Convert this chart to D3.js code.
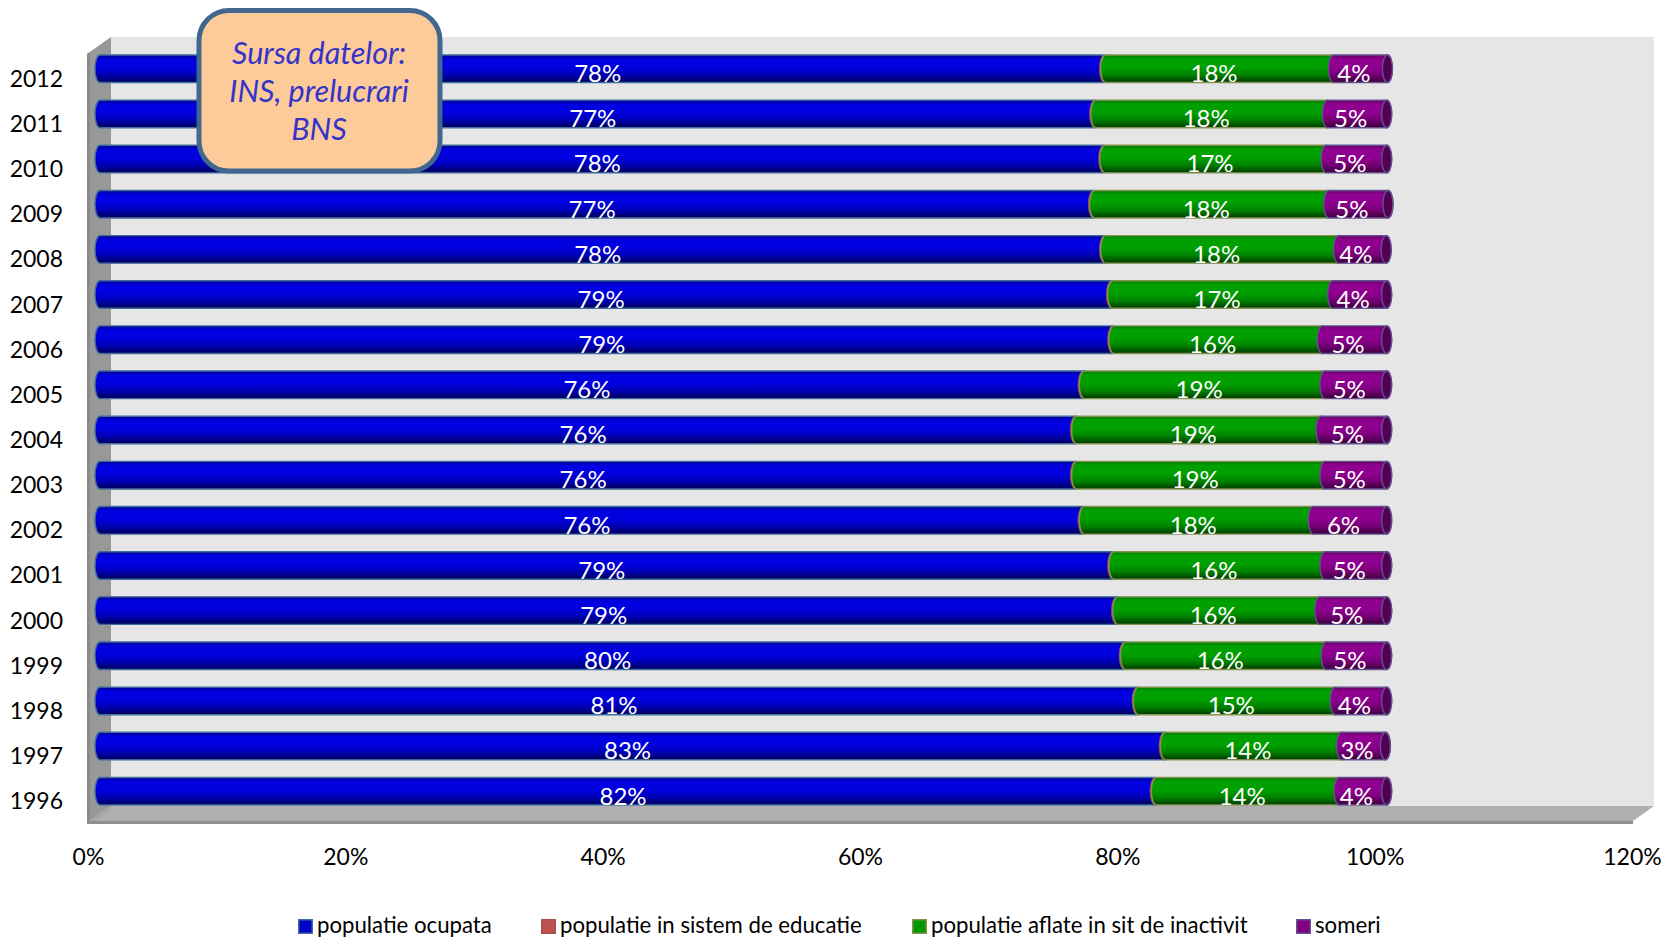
<!DOCTYPE html>
<html><head><meta charset="utf-8">
<script src="https://cdn.jsdelivr.net/npm/d3@7"></script>
<style>html,body{margin:0;padding:0;background:#fff;overflow:hidden}svg{display:block}text{font-family:Lato,"Open Sans",sans-serif}</style>
</head><body><svg id="c" width="1663" height="938"></svg>
<script>
const categories=["2012","2011","2010","2009","2008","2007","2006","2005","2004","2003","2002","2001","2000","1999","1998","1997","1996"];
const ocupata=[78.06,77.3,78.0,77.2,78.06,78.6,78.7,76.4,75.8,75.8,76.4,78.7,79.0,79.6,80.6,82.7,82.0];
const educatie=[0.1,0.1,0.1,0.1,0.1,0.1,0.1,0.1,0.1,0.1,0.1,0.1,0.1,0.1,0.1,0.1,0.1];
const inactiv=[17.7,18.0,17.2,18.2,18.1,17.1,16.2,18.7,19.0,19.3,17.8,16.4,15.7,15.6,15.3,13.7,14.2];
const someri=[4.2,4.6,4.7,4.6,3.7,4.2,5.0,4.8,5.1,4.8,5.7,4.8,5.2,4.7,4.0,3.4,3.7];
const axisTicks=[0,20,40,60,80,100,120];
const seriesNames=["populatie ocupata","populatie in sistem de educatie","populatie aflate in sit de inactivit","someri"];
const seriesValues=[ocupata,educatie,inactiv,someri];
const noteLines=["Sursa datelor:","INS, prelucrari","BNS"];

const svg=d3.select("#c");
const defs=svg.append("defs");
const ramps=[["#00008c","#0000e0","#0000b4","#000058"],["#7a2a28","#c0504d","#a03c3a","#5a1f1e"],["#007a00","#00a000","#008200","#003a00"],["#640064","#900090","#740074","#3a003a"]];
const strokes=["#3f6c9e","#a5514f","#83924f","#64508f"];
const swatchFill=["#0000c8","#c0504d","#009900","#7f007f"];
ramps.forEach((r,i)=>{const g=defs.append("linearGradient").attr("id","g"+i).attr("x1",0).attr("y1",0).attr("x2",0).attr("y2",1);
 [[0,r[0]],[.15,r[1]],[.45,r[1]],[.72,r[2]],[1,r[3]]].forEach(s=>g.append("stop").attr("offset",s[0]).attr("stop-color",s[1]));});

const x=d3.scaleLinear().domain([0,120]).range([88,1632]);
const barOffset=12;
const labelOffsets=[4.5,0,5.5,6.5];
const y=d3.scaleBand().domain(categories).range([55,805]).paddingInner(0.39).paddingOuter(0);
const rx=5;

// 3D frame
const frame=svg.append("g");
frame.append("rect").attr("x",111).attr("y",37).attr("width",1543).attr("height",769).attr("fill","#e6e6e6");
frame.append("path").attr("d","M87 54L111 37V806L87 823Z").attr("fill","#989898");
frame.append("path").attr("d","M87 54L90 52V823H87Z").attr("fill","#8a8a8a");
frame.append("path").attr("d","M111 806H1654L1633 821H90Z").attr("fill","#b0b0b0");
frame.append("path").attr("d","M87 821H1633V824H87Z").attr("fill","#8f8f8f");
frame.append("path").attr("d","M90 821L111 806V809L95 821Z").attr("fill","#a4a4a4");

// Bars
const bars=svg.append("g");
categories.forEach((c,i)=>{
 let acc=0;const top=y(c),h=y.bandwidth(),r=h/2;
 const g=bars.append("g");
 seriesValues.forEach((vals,s)=>{
  const a=x(acc)+barOffset,b=x(acc+vals[i])+barOffset;acc+=vals[i];
  g.append("path").attr("d",`M${a} ${top}L${b} ${top}A${rx} ${r} 0 0 1 ${b} ${top+h}L${a} ${top+h}A${rx} ${r} 0 0 1 ${a} ${top}Z`)
   .attr("fill",`url(#g${s})`).attr("stroke",strokes[s]).attr("stroke-width",s===1?0.8:1.4);
 });
 g.append("ellipse").attr("cx",x(acc)+barOffset).attr("cy",top+r).attr("rx",rx).attr("ry",r)
  .attr("fill","#520052").attr("stroke",strokes[3]).attr("stroke-width",1.4);
 let acc2=0;
 seriesValues.forEach((vals,s)=>{
  const v=vals[i],m=acc2+v/2;acc2+=v;
  if(s===1)return;
  g.append("text").attr("x",x(m)+barOffset-labelOffsets[s]).attr("y",top+h-0.5).attr("text-anchor","middle").attr("fill","#fff").attr("font-size",24).text(d3.format(".0f")(v)+"%");
 });
});

// Axes
const gy=svg.append("g").attr("transform","translate(63,0)").call(d3.axisLeft(y).tickSize(0).tickPadding(0));
const gx=svg.append("g").attr("transform","translate(0,865)").call(d3.axisBottom(x).tickValues(axisTicks).tickFormat(d=>d+"%").tickSize(0).tickPadding(0));
gy.select(".domain").remove();gx.select(".domain").remove();
gy.selectAll("text").attr("font-size",23).attr("fill","#000").attr("font-family","Lato").attr("dy","0").attr("y",18);
gx.selectAll("text").attr("font-size",23).attr("fill","#000").attr("font-family","Lato").attr("dy","0").attr("y",0);

// Note callout
svg.append("rect").attr("x",199).attr("y",10.5).attr("width",241).attr("height",160.5).attr("rx",30).attr("fill","#fdca9a").attr("stroke","#41678f").attr("stroke-width",5);
noteLines.forEach((t,i)=>svg.append("text").attr("x",319).attr("y",64+i*38).attr("text-anchor","middle").attr("font-style","italic").attr("font-size",30.5).attr("fill","#3434c8").text(t));

// Legend
const legendSwatchX=[298,541,912,1296];
seriesNames.forEach((n,i)=>{
 svg.append("rect").attr("x",legendSwatchX[i]+.75).attr("y",919.75).attr("width",13.5).attr("height",13.5).attr("fill",swatchFill[i]).attr("stroke",strokes[i]).attr("stroke-width",1.5);
 svg.append("text").attr("x",legendSwatchX[i]+19).attr("y",933.2).attr("font-size",22.2).attr("fill","#000").text(n);
});
</script></body></html>
